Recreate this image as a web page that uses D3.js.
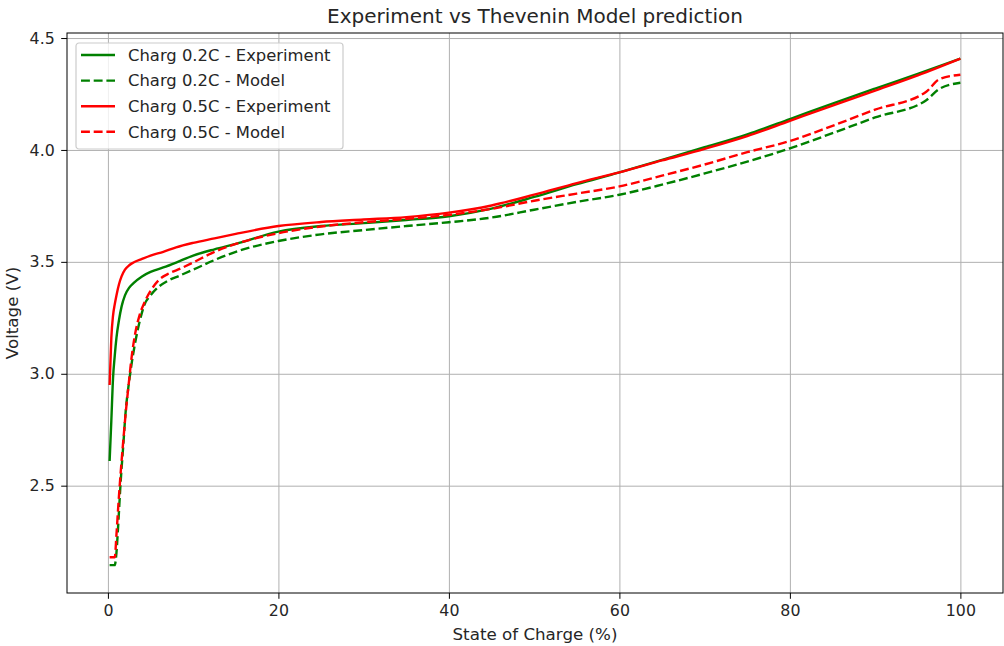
<!DOCTYPE html>
<html>
<head>
<meta charset="utf-8">
<script src="https://cdn.jsdelivr.net/npm/d3@7"></script>
<style>
  body { margin: 0; background: #fff; }
  svg { font-family: "DejaVu Sans", sans-serif; }
  .grid line { stroke: #b0b0b0; stroke-width: 1; }
  .grid path { display: none; }
</style>
</head>
<body>
<div id="chart"></div>
<script>
// state of charge (%) sampling of the experiment curves
var socExp = [0.2, 0.4, 0.6, 0.8, 1.0, 1.3, 1.6, 2, 2.5, 3, 4, 5, 6.5, 8, 10, 12.5, 15, 20, 25, 30, 35, 40, 45, 50, 55, 60, 65, 70, 75, 80, 85, 90, 95, 100];
var exp02 = [2.61, 2.79, 2.98, 3.08, 3.16, 3.24, 3.30, 3.35, 3.385, 3.405, 3.435, 3.455, 3.475, 3.497, 3.528, 3.556, 3.58, 3.635, 3.66, 3.673, 3.687, 3.704, 3.738, 3.79, 3.847, 3.90, 3.956, 4.012, 4.07, 4.138, 4.207, 4.274, 4.34, 4.408];
var exp05 = [2.95, 3.16, 3.26, 3.31, 3.35, 3.40, 3.435, 3.465, 3.485, 3.497, 3.513, 3.528, 3.545, 3.565, 3.585, 3.605, 3.625, 3.66, 3.678, 3.689, 3.70, 3.72, 3.752, 3.80, 3.852, 3.90, 3.953, 4.005, 4.062, 4.13, 4.198, 4.265, 4.333, 4.408];

// state of charge (%) sampling of the model curves
var socModel = [0.2, 0.8, 1.0, 1.2, 1.5, 1.8, 2.1, 2.4, 2.8, 3.2, 3.7, 4.3, 5, 6, 7, 8.5, 10, 12.5, 15, 20, 25, 30, 35, 40, 45, 50, 55, 60, 65, 70, 75, 80, 85, 90, 96, 97.5, 100];
var model02 = [2.145, 2.145, 2.20, 2.32, 2.52, 2.68, 2.84, 2.94, 3.05, 3.14, 3.23, 3.31, 3.35, 3.39, 3.415, 3.44, 3.465, 3.508, 3.545, 3.593, 3.623, 3.642, 3.66, 3.677, 3.698, 3.733, 3.768, 3.80, 3.845, 3.895, 3.948, 4.007, 4.075, 4.145, 4.222, 4.272, 4.30];
var model05 = [2.18, 2.18, 2.28, 2.40, 2.56, 2.70, 2.83, 2.94, 3.08, 3.18, 3.26, 3.32, 3.37, 3.42, 3.445, 3.47, 3.497, 3.545, 3.58, 3.628, 3.658, 3.677, 3.692, 3.71, 3.737, 3.773, 3.805, 3.837, 3.885, 3.935, 3.99, 4.04, 4.108, 4.18, 4.26, 4.315, 4.336];

var seriesNames = ["Charg 0.2C - Experiment", "Charg 0.2C - Model", "Charg 0.5C - Experiment", "Charg 0.5C - Model"];
var xTicks = [0, 20, 40, 60, 80, 100];
var yTicks = [2.5, 3.0, 3.5, 4.0, 4.5];

var series = [
  {name: seriesNames[0], soc: socExp, v: exp02, color: "green", dash: null},
  {name: seriesNames[1], soc: socModel, v: model02, color: "green", dash: "8.9,3.8"},
  {name: seriesNames[2], soc: socExp, v: exp05, color: "red", dash: null},
  {name: seriesNames[3], soc: socModel, v: model05, color: "red", dash: "8.9,3.8"}
];

// dimensions
var W = 1004, H = 646;
var margin = {top: 33, right: 1, bottom: 53, left: 67},
    width = W - margin.left - margin.right,
    height = H - margin.top - margin.bottom;

var x = d3.scaleLinear().domain([-4.8, 105]).range([0, width]);
var y = d3.scaleLinear().domain([2.0205, 4.5225]).range([height, 0]);

var svg = d3.select("#chart").append("svg")
    .attr("width", W)
    .attr("height", H);

var g = svg.append("g")
    .attr("transform", "translate(" + margin.left + "," + margin.top + ")");

// grid
g.append("g")
    .attr("class", "grid")
    .attr("transform", "translate(0," + height + ")")
    .call(d3.axisBottom(x).tickValues(xTicks).tickSize(-height).tickFormat(""));
g.append("g")
    .attr("class", "grid")
    .call(d3.axisLeft(y).tickValues(yTicks).tickSize(-width).tickFormat(""));

// lines
var line = d3.line()
    .x(function(d) { return x(d[0]); })
    .y(function(d) { return y(d[1]); })
    .curve(d3.curveMonotoneX);

svg.append("defs").append("clipPath").attr("id", "clip")
  .append("rect").attr("width", width).attr("height", height);

series.forEach(function(s) {
  var pts = s.soc.map(function(d, i) { return [d, s.v[i]]; });
  g.append("path")
      .attr("clip-path", "url(#clip)")
      .attr("d", line(pts))
      .attr("fill", "none")
      .attr("stroke", s.color)
      .attr("stroke-width", 2.4)
      .attr("stroke-dasharray", s.dash);
});

// axes
var xAxis = g.append("g")
    .attr("transform", "translate(0," + height + ")")
    .call(d3.axisBottom(x).tickValues(xTicks).tickSize(5.8).tickPadding(5.5).tickFormat(d3.format("d")));
var yAxis = g.append("g")
    .call(d3.axisLeft(y).tickValues(yTicks).tickSize(5.8).tickPadding(6.5).tickFormat(d3.format(".1f")));
[xAxis, yAxis].forEach(function(a) {
  a.select(".domain").remove();
  a.selectAll("line").attr("stroke", "#000").attr("stroke-width", 1);
  a.selectAll("text").attr("fill", "#262626").style("font-size", "15.8px").style("font-family", "DejaVu Sans");
});

// frame
g.append("rect")
    .attr("width", width).attr("height", height)
    .attr("fill", "none").attr("stroke", "#000").attr("stroke-width", 1);

// title and labels
svg.append("text")
    .attr("x", margin.left + width / 2).attr("y", 23)
    .attr("text-anchor", "middle")
    .style("font-size", "20px")
    .attr("fill", "#262626")
    .text("Experiment vs Thevenin Model prediction");

svg.append("text")
    .attr("x", margin.left + width / 2).attr("y", 640)
    .attr("text-anchor", "middle")
    .style("font-size", "16.7px")
    .attr("fill", "#262626")
    .text("State of Charge (%)");

svg.append("text")
    .attr("transform", "translate(18," + (margin.top + height / 2) + ") rotate(-90)")
    .attr("text-anchor", "middle")
    .style("font-size", "16.7px")
    .attr("fill", "#262626")
    .text("Voltage (V)");

// legend
var leg = g.append("g").attr("transform", "translate(9,10)");
leg.append("rect")
    .attr("width", 267).attr("height", 106)
    .attr("rx", 3).attr("ry", 3)
    .attr("fill", "#fff").attr("fill-opacity", 0.8)
    .attr("stroke", "#cccccc").attr("stroke-width", 1.2);

series.forEach(function(s, i) {
  var yy = 12 + i * 25.6;
  leg.append("line")
      .attr("x1", 5).attr("x2", 39).attr("y1", yy).attr("y2", yy)
      .attr("stroke", s.color).attr("stroke-width", 2.4)
      .attr("stroke-dasharray", s.dash);
  leg.append("text")
      .attr("x", 52).attr("y", yy).attr("dy", "0.35em")
      .style("font-size", "16.4px")
      .attr("fill", "#262626")
      .text(s.name);
});
</script>
</body>
</html>
